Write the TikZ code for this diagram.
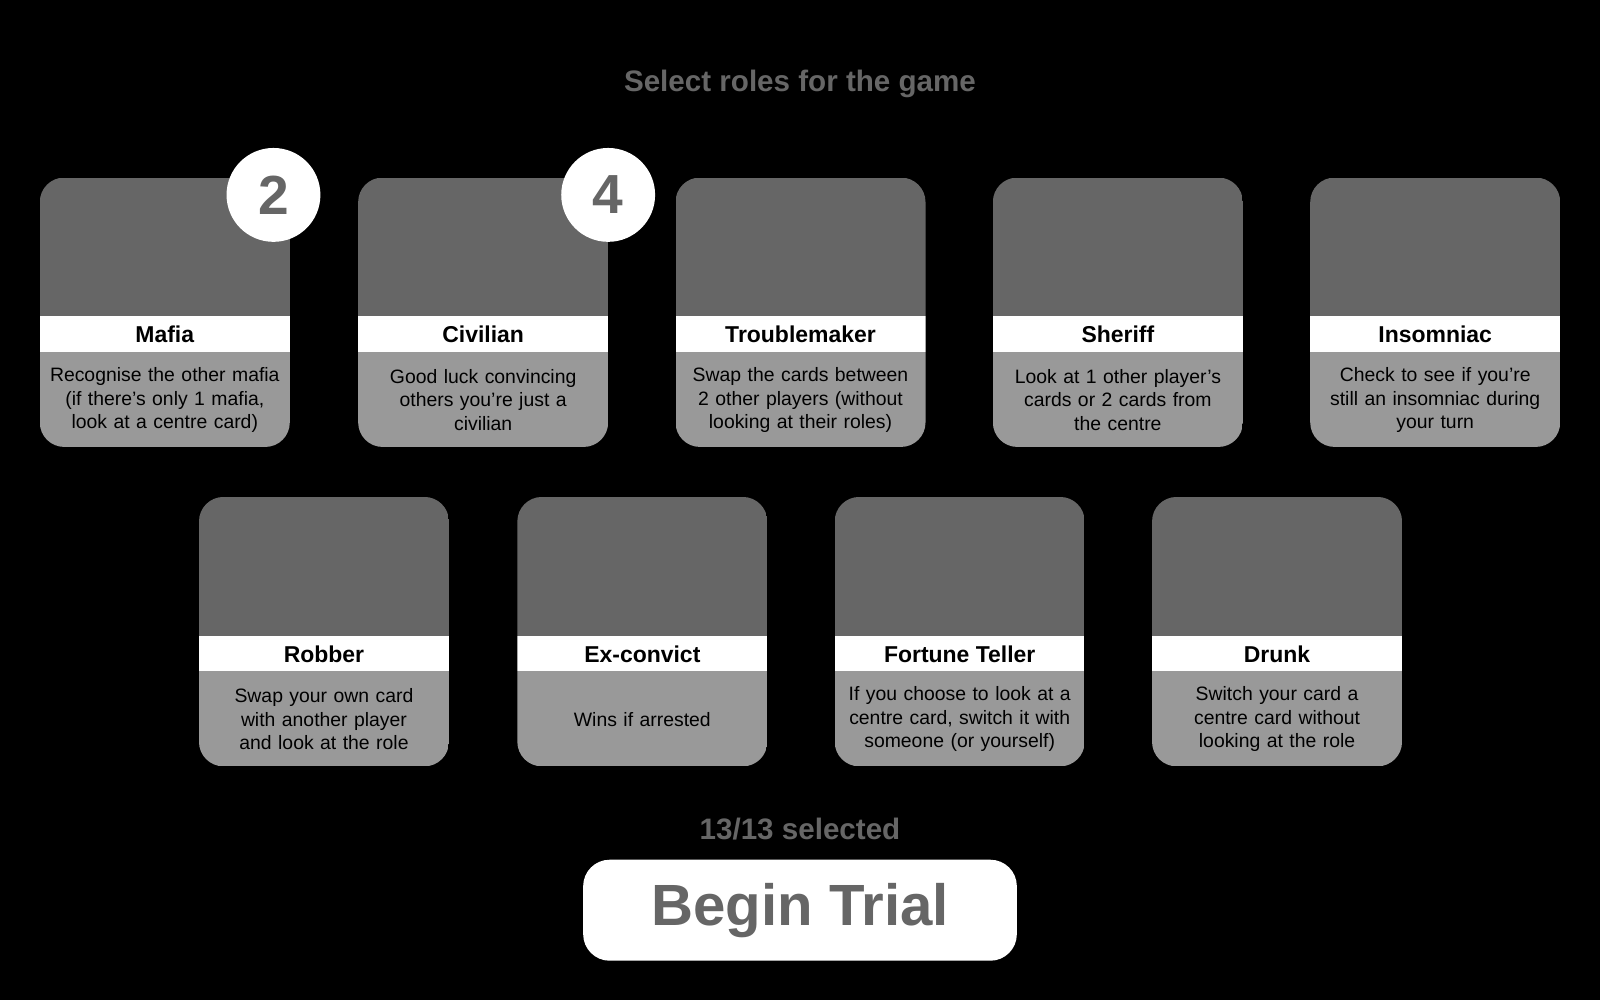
\documentclass[tikz,border=0pt]{standalone}
\usepackage{fontspec}
\setmainfont{Liberation Sans}
\definecolor{dk}{HTML}{666666}
\definecolor{lt}{HTML}{999999}
\newcommand{\rolecard}[5]{%
 \begin{scope}
 \clip[rounded corners=24pt] (#1,#2) rectangle ++(245,-264);
 \fill[dk] (#1,#2) rectangle ++(245,-136);
 \fill[white] (#1,#2-136) rectangle ++(245,-35);
 \fill[lt] (#1,#2-171) rectangle ++(245,-93);
 \end{scope}
 \node[title] (#3t) at (#1+122.5,#2-154) {#4};
 \node[desc] (#3d) at (#1+122.5,#2-218) {#5};
}
\begin{document}
\begin{tikzpicture}[x=1pt,y=1pt,
 title/.style={font=\fontsize{22.5}{26}\selectfont\bfseries,text=black},
 desc/.style={font=\fontsize{19}{23}\selectfont,text=black,align=center,text width=240pt,inner sep=0pt},
 badge/.style={circle,fill=white,minimum size=92pt,inner sep=0pt,font=\fontsize{54}{54}\selectfont\bfseries,text=dk}]
\fill[black] (0,0) rectangle (1568,-980);
\useasboundingbox (0,0) rectangle (1568,-980);
\node[font=\fontsize{29}{34}\selectfont\bfseries,text=dk] (head) at (784,-82) {Select roles for the game};
\rolecard{39}{-174}{maf}{Mafia}{Recognise the other mafia\\(if there’s only 1 mafia,\\look at a centre card)}
\rolecard{351}{-174}{civ}{Civilian}{Good luck convincing\\others you’re just a\\civilian}
\rolecard{662}{-174}{tro}{Troublemaker}{Swap the cards between\\2 other players (without\\looking at their roles)}
\rolecard{973}{-174}{she}{Sheriff}{Look at 1 other player’s\\cards or 2 cards from\\the centre}
\rolecard{1284}{-174}{ins}{Insomniac}{Check to see if you’re\\still an insomniac during\\your turn}
\rolecard{195}{-487}{rob}{Robber}{Swap your own card\\with another player\\and look at the role}
\rolecard{507}{-487}{exc}{Ex-convict}{Wins if arrested}
\rolecard{818}{-487}{for}{Fortune Teller}{If you choose to look at a\\centre card, switch it with\\someone (or yourself)}
\rolecard{1129}{-487}{dru}{Drunk}{Switch your card a\\centre card without\\looking at the role}
\node[badge] (b1) at (268,-191) {2};
\node[badge] (b2) at (596,-191) {4};
\node[font=\fontsize{29}{34}\selectfont\bfseries,text=dk] (sel) at (784,-812) {13/13 selected};
\node[fill=white,rounded corners=26pt,minimum width=425pt,minimum height=99pt,font=\fontsize{57}{57}\selectfont\bfseries,text=dk] (btn) at (784,-892) {Begin Trial};
\end{tikzpicture}
\end{document}
